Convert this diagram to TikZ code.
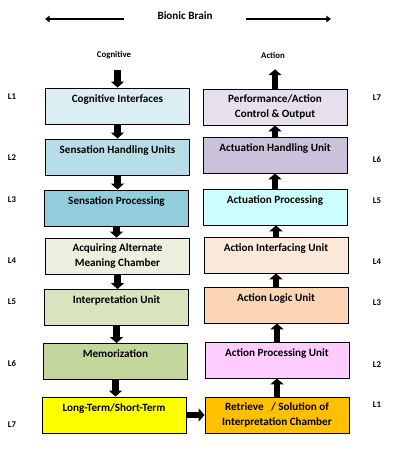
\documentclass[tikz,border=0pt]{standalone}
\usepackage{fontspec}
\setmainfont{Carlito}
\usepackage{xcolor}
\usepackage{tikz}
\usetikzlibrary{arrows.meta, positioning, calc}

\definecolor{cogint}{HTML}{DAEEF3}
\definecolor{senshand}{HTML}{B7DDE8}
\definecolor{sensproc}{HTML}{92CDDC}
\definecolor{acquire}{HTML}{EBF1DE}
\definecolor{interp}{HTML}{D7E4BD}
\definecolor{memo}{HTML}{C3D69B}
\definecolor{longterm}{HTML}{FFFF00}
\definecolor{perform}{HTML}{E5E0EC}
\definecolor{acthand}{HTML}{CCC1DA}
\definecolor{actproc}{HTML}{CCFFFF}
\definecolor{actiface}{HTML}{FDE9D9}
\definecolor{actlogic}{HTML}{FCD5B5}
\definecolor{actunit}{HTML}{FFCCFF}
\definecolor{retrieve}{HTML}{FFC000}

\begin{document}
\begin{tikzpicture}[
    x=0.03cm, y=-0.03cm,
    box/.style={rectangle, draw, thick, minimum width=4.32cm, minimum height=1.08cm, align=center, inner sep=0pt, font=\fontsize{9.5}{12.8}\selectfont\bfseries},
    layer/.style={font=\fontsize{7.5}{8}\selectfont\bfseries},
    blockarrow/.style={line width=5.5pt, -{Triangle[length=5pt, width=11pt]}},
    thinarrow/.style={line width=1.7pt, -{Triangle[length=4pt, width=5.5pt]}}
]
    \useasboundingbox (0,0) rectangle (417,460);

    % Title
    \node [inner sep=0pt, minimum width=3.66cm, font=\fontsize{9.5}{11}\selectfont\bfseries] (title) at (185,16) {Bionic Brain};
    \coordinate (brainL) at (45,19);
    \coordinate (brainR) at (331,19);
    \draw[thinarrow] (title.west |- brainL) -- (brainL);
    \draw[thinarrow] (title.east |- brainR) -- (brainR);

    % Column heads
    \node [layer] (cog) at (114,55) {Cognitive};
    \node [layer] (act) at (273,55) {Action};

    % Cognitive column
    \node [box, fill=cogint] (c1) at (117.5,106) {Cognitive Interfaces\\~};
    \node [box, fill=senshand] (c2) at (117.5,157) {Sensation Handling Units\\~};
    \node [box, fill=sensproc] (c3) at (116.5,208) {Sensation Processing\\~};
    \node [box, fill=acquire] (c4) at (117.5,256) {Acquiring Alternate\\Meaning Chamber};
    \node [box, fill=interp] (c5) at (116.5,307.5) {Interpretation Unit\\~};
    \node [box, fill=memo] (c6) at (115.5,361.5) {Memorization\\~};
    \node [box, fill=longterm] (c7) at (114,415) {Long-Term/Short-Term\\~};

    % Action column
    \node [box, fill=perform] (r1) at (275,107) {Performance/Action\\Control \& Output};
    \node [box, fill=acthand] (r2) at (275,155) {Actuation Handling Unit\\~};
    \node [box, fill=actproc] (r3) at (275,207) {Actuation Processing\\~};
    \node [box, fill=actiface] (r4) at (276,255) {Action Interfacing Unit\\~};
    \node [box, fill=actlogic] (r5) at (276,305) {Action Logic Unit\\~};
    \node [box, fill=actunit] (r6) at (277,360) {Action Processing Unit\\~};
    \node [box, fill=retrieve] (r7) at (277,415) {Retrieve~~~/ Solution of\\Interpretation Chamber};

    % Layer labels
    \node [layer] (cl1) at (12,97) {L1};
    \node [layer] (cl2) at (12,158) {L2};
    \node [layer] (cl3) at (12,200) {L3};
    \node [layer] (cl4) at (12,261) {L4};
    \node [layer] (cl5) at (12,302) {L5};
    \node [layer] (cl6) at (12,364) {L6};
    \node [layer] (cl7) at (12,425) {L7};
    \node [layer] (rl7) at (377,98) {L7};
    \node [layer] (rl6) at (377,160) {L6};
    \node [layer] (rl5) at (377,201) {L5};
    \node [layer] (rl4) at (377,262) {L4};
    \node [layer] (rl3) at (377,303) {L3};
    \node [layer] (rl2) at (377,365) {L2};
    \node [layer] (rl1) at (377,405) {L1};

    % Downward flow
    \draw[blockarrow, shorten <=6pt] (cog.south -| c1.north) -- (c1.north);
    \draw[blockarrow] (c1.south) -- (c1.south |- c2.north);
    \draw[blockarrow] (c2.south) -- (c2.south |- c3.north);
    \draw[blockarrow] (c3.south) -- (c3.south |- c4.north);
    \draw[blockarrow] (c4.south) -- (c4.south |- c5.north);
    \draw[blockarrow] (c5.south) -- (c5.south |- c6.north);
    \draw[blockarrow] (c6.south) -- (c6.south |- c7.north);

    % Across
    \draw[blockarrow] (c7.east) -- (c7.east -| r7.west);

    % Upward flow
    \draw[blockarrow] (r7.north) -- (r7.north |- r6.south);
    \draw[blockarrow] (r6.north) -- (r6.north |- r5.south);
    \draw[blockarrow] (r5.north) -- (r5.north |- r4.south);
    \draw[blockarrow] (r4.north) -- (r4.north |- r3.south);
    \draw[blockarrow] (r3.north) -- (r3.north |- r2.south);
    \draw[blockarrow] (r2.north) -- (r2.north |- r1.south);
    \draw[blockarrow, shorten >=6pt] (r1.north) -- (r1.north |- act.south);
\end{tikzpicture}
\end{document}
